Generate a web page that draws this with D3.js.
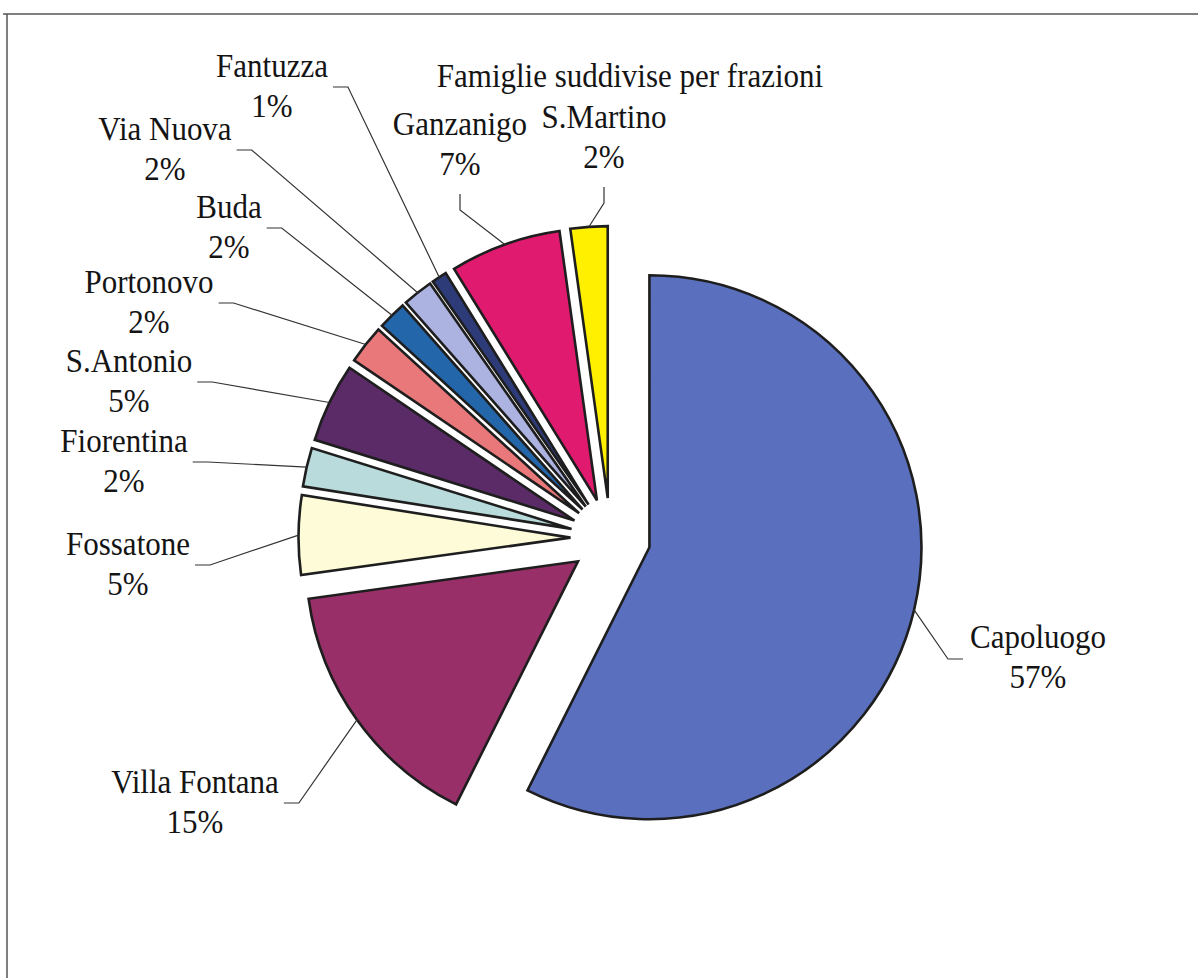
<!DOCTYPE html>
<html>
<head>
<meta charset="utf-8">
<script src="https://cdn.jsdelivr.net/npm/d3@7"></script>
<style>
  html, body { margin: 0; padding: 0; background: #fff; }
  svg { display: block; }
  text { font-family: "Liberation Serif", "Times New Roman", serif; fill: #141414; }
</style>
</head>
<body>
<svg id="chart" width="1198" height="978"></svg>
<script>
// ---- data ----
const title = "Famiglie suddivise per frazioni";
const categories = ["Capoluogo", "Villa Fontana", "Fossatone", "Fiorentina", "S.Antonio",
                    "Portonovo", "Buda", "Via Nuova", "Fantuzza", "Ganzanigo", "S.Martino"];
const values = [57.4, 15.4, 4.7, 2.3, 4.7, 2.3, 1.7, 1.8, 0.9, 6.6, 2.2];
const colors = ["#5a6fbd", "#982f68", "#fdfbd8", "#b9dbdc", "#5b2b68",
                "#e9787a", "#2466aa", "#adb3e1", "#2d3b78", "#df1a6f", "#fff000"];

// ---- label layout (center x, first baseline, leader side) ----
const labelLayout = [
  {x: 1038, y: 648, side: "right"},
  {x: 195,  y: 793, side: "left"},
  {x: 128,  y: 555, side: "left"},
  {x: 124,  y: 452, side: "left"},
  {x: 129,  y: 372, side: "left"},
  {x: 149,  y: 293, side: "left"},
  {x: 229,  y: 218, side: "left"},
  {x: 165,  y: 140, side: "left"},
  {x: 272,  y: 77,  side: "left"},
  {x: 460,  y: 135, side: "top"},
  {x: 604,  y: 128, side: "top"}
];

const svg = d3.select("#chart");
const cx = 610.5, cy = 538, R = 272, explode = 40;
const fontSize = 31, lineGap = 40, stretchY = 1.1;

function addText(x, y, str) {
  return svg.append("text")
    .attr("transform", `translate(${x},${y}) scale(1,${stretchY})`)
    .attr("text-anchor", "middle").attr("font-size", fontSize).text(str);
}

// frame
svg.append("line").attr("x1", 3).attr("y1", 14).attr("x2", 1198).attr("y2", 14)
  .attr("stroke", "#555").attr("stroke-width", 1.5);
svg.append("line").attr("x1", 7).attr("y1", 14).attr("x2", 7).attr("y2", 978)
  .attr("stroke", "#555").attr("stroke-width", 1.5);

// title
addText(630, 87, title);

const pie = d3.pie().sort(null).value(d => d);
const arcs = pie(values);
const arc = d3.arc().innerRadius(0).outerRadius(R);

const g = svg.append("g").attr("transform", `translate(${cx},${cy})`);

const mid = d => (d.startAngle + d.endAngle) / 2;
const offset = d => [explode * Math.sin(mid(d)), -explode * Math.cos(mid(d))];

g.selectAll("path.slice").data(arcs).enter().append("path")
  .attr("class", "slice")
  .attr("d", arc)
  .attr("transform", d => { const o = offset(d); return `translate(${o[0]},${o[1]})`; })
  .attr("fill", (d, i) => colors[i])
  .attr("stroke", "#1e1e1e")
  .attr("stroke-width", 2.6)
  .attr("stroke-linejoin", "miter");

// labels + leaders
arcs.forEach((d, i) => {
  const L = labelLayout[i];
  const t = addText(L.x, L.y, categories[i]);
  addText(L.x, L.y + lineGap, Math.round(values[i]) + "%");
  const w = t.node().getComputedTextLength();
  const a = mid(d);
  const end = [cx + (R + explode) * Math.sin(a), cy - (R + explode) * Math.cos(a)];
  let pts;
  if (L.side === "left") {
    const sx = L.x + w / 2 + 5, sy = L.y + 10;
    pts = [[sx, sy], [sx + 15, sy], end];
  } else if (L.side === "right") {
    const sx = L.x - w / 2 - 7, sy = L.y + 11;
    pts = [[sx, sy], [sx - 15, sy], end];
  } else {
    const sy = L.y + lineGap + 19;
    pts = [[L.x, sy], [L.x, sy + 16], end];
  }
  svg.append("path").attr("d", d3.line()(pts))
    .attr("fill", "none").attr("stroke", "#333").attr("stroke-width", 1.2);
});
</script>
</body>
</html>
